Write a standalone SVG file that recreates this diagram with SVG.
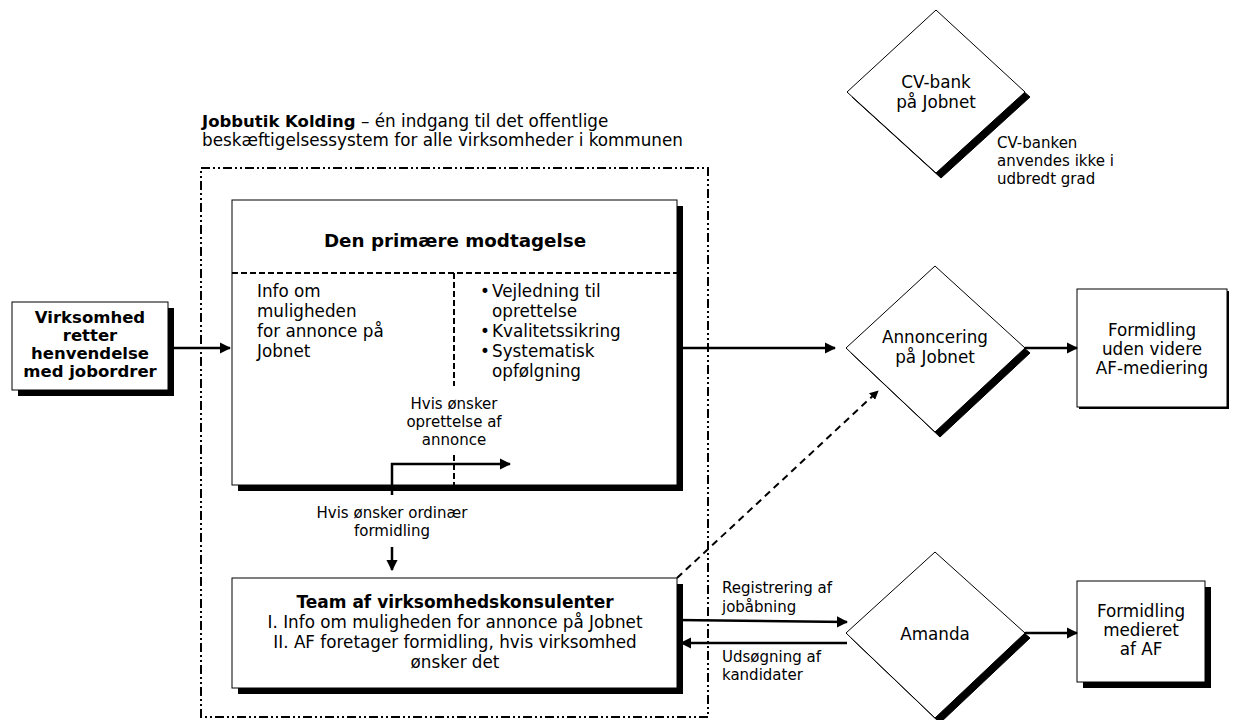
<svg xmlns="http://www.w3.org/2000/svg" width="1237" height="720" viewBox="0 0 1237 720">
<style>
text{font-family:"DejaVu Sans",Verdana,sans-serif;fill:#000}
.t15{font-size:16.8px}
.t13{font-size:15px}
.b{font-weight:bold;font-size:16.5px}
.box{fill:#fff;stroke:#000;stroke-width:1}
.sh{fill:#000}
.ln{stroke:#000;stroke-width:2.5;fill:none}
</style>
<defs>
<marker id="ah" viewBox="0 0 10 10" refX="9" refY="5" markerWidth="4.5" markerHeight="4.5" orient="auto" markerUnits="strokeWidth">
<path d="M0,0 L10,5 L0,10 z" fill="#000"/>
</marker>
</defs>
<rect width="1237" height="720" fill="#fff"/>

<g id="frame">
<text x="202" y="127" class="t15"><tspan class="b">Jobbutik Kolding</tspan> – én indgang til det offentlige</text>
<text x="202" y="146" class="t15">beskæftigelsessystem for alle virksomheder i kommunen</text>
<rect x="201" y="168" width="507" height="549" fill="none" stroke="#000" stroke-width="2" stroke-dasharray="9 3 2 3 2 3"/>
</g>

<g id="virksomhed">
<rect x="18" y="308" width="156" height="88" class="sh"/>
<rect x="12" y="302" width="156" height="88" class="box"/>
<text text-anchor="middle" class="b"><tspan x="90" y="323">Virksomhed</tspan><tspan x="90" y="341">retter</tspan><tspan x="90" y="359">henvendelse</tspan><tspan x="90" y="377">med jobordrer</tspan></text>
</g>

<g id="modtagelse">
<rect x="238" y="206" width="445" height="285" class="sh"/>
<rect x="232" y="200" width="445" height="285" class="box"/>
<text x="455" y="247" text-anchor="middle" class="b" style="font-size:18.3px">Den primære modtagelse</text>
<line x1="232" y1="273" x2="677" y2="273" stroke="#000" stroke-width="2" stroke-dasharray="6 3"/>
<line x1="454" y1="273" x2="454" y2="386" stroke="#000" stroke-width="2" stroke-dasharray="6 3"/>
<line x1="454" y1="455" x2="454" y2="485" stroke="#000" stroke-width="2" stroke-dasharray="6 3"/>
<text class="t15"><tspan x="257" y="297">Info om</tspan><tspan x="257" y="317">muligheden</tspan><tspan x="257" y="337">for annonce på</tspan><tspan x="257" y="357">Jobnet</tspan></text>
<g class="t15">
<text x="480" y="297">•</text><text x="492" y="297">Vejledning til</text>
<text x="492" y="317">oprettelse</text>
<text x="480" y="337">•</text><text x="492" y="337">Kvalitetssikring</text>
<text x="480" y="357">•</text><text x="492" y="357">Systematisk</text>
<text x="492" y="377">opfølgning</text>
</g>
<text text-anchor="middle" class="t13"><tspan x="454" y="409">Hvis ønsker</tspan><tspan x="454" y="427">oprettelse af</tspan><tspan x="454" y="445">annonce</tspan></text>
</g>

<g id="team">
<rect x="238" y="584" width="445" height="110" class="sh"/>
<rect x="232" y="578" width="445" height="110" class="box"/>
<text text-anchor="middle" class="t15"><tspan x="455" y="608" class="b" style="font-size:17px">Team af virksomhedskonsulenter</tspan><tspan x="455" y="628">I. Info om muligheden for annonce på Jobnet</tspan><tspan x="455" y="648">II. AF foretager formidling, hvis virksomhed</tspan><tspan x="455" y="668">ønsker det</tspan></text>
</g>

<g id="cvbank">
<polygon points="936,15 1030,97 941,178 852,97" fill="#000" stroke="#000"/>
<polygon points="936,10 1025,92 936,173 847,92" class="box"/>
<text text-anchor="middle" class="t15"><tspan x="936" y="88">CV-bank</tspan><tspan x="936" y="108">på Jobnet</tspan></text>
<text class="t13"><tspan x="997" y="148">CV-banken</tspan><tspan x="997" y="166">anvendes ikke i</tspan><tspan x="997" y="184">udbredt grad</tspan></text>
</g>

<g id="annoncering">
<polygon points="935,271 1030,353 940,437 851,353" fill="#000" stroke="#000"/>
<polygon points="935,266 1025,348 935,432 846,348" class="box"/>
<text text-anchor="middle" class="t15"><tspan x="935" y="343">Annoncering</tspan><tspan x="935" y="363">på Jobnet</tspan></text>
</g>

<g id="amanda">
<polygon points="935,557 1030,638 940,723 851,638" fill="#000" stroke="#000"/>
<polygon points="935,552 1025,633 935,718 846,633" class="box"/>
<text x="935" y="640" text-anchor="middle" class="t15">Amanda</text>
</g>

<g id="uden">
<rect x="1079" y="291" width="150" height="118" class="sh"/>
<rect x="1077" y="289" width="150" height="118" class="box"/>
<text text-anchor="middle" class="t15"><tspan x="1152" y="336">Formidling</tspan><tspan x="1152" y="355">uden videre</tspan><tspan x="1152" y="374">AF-mediering</tspan></text>
</g>

<g id="medieret">
<rect x="1083" y="587" width="128" height="101" class="sh"/>
<rect x="1077" y="581" width="128" height="101" class="box"/>
<text text-anchor="middle" class="t15"><tspan x="1141" y="617">Formidling</tspan><tspan x="1141" y="636">medieret</tspan><tspan x="1141" y="655">af AF</tspan></text>
</g>

<g id="connectors">
<line x1="168" y1="348" x2="230" y2="348" class="ln" marker-end="url(#ah)"/>
<line x1="677" y1="348" x2="835" y2="348" class="ln" marker-end="url(#ah)"/>
<line x1="1025" y1="348" x2="1077" y2="348" class="ln" marker-end="url(#ah)"/>
<line x1="1025" y1="633" x2="1077" y2="633" class="ln" marker-end="url(#ah)"/>
<polyline points="392,495 392,464 510,464" class="ln" marker-end="url(#ah)"/>
<line x1="392" y1="547" x2="392" y2="570" class="ln" marker-end="url(#ah)"/>
<line x1="677" y1="620" x2="847" y2="622" class="ln" marker-end="url(#ah)"/>
<line x1="847" y1="643" x2="681" y2="643" class="ln" marker-end="url(#ah)"/>
<line x1="677" y1="578" x2="878" y2="391" stroke="#000" stroke-width="2" stroke-dasharray="7 5" marker-end="url(#ah)"/>
<text class="t13"><tspan x="722" y="593">Registrering af</tspan><tspan x="722" y="612">jobåbning</tspan></text>
<text class="t13"><tspan x="722" y="662">Udsøgning af</tspan><tspan x="722" y="680">kandidater</tspan></text>
<text text-anchor="middle" class="t13"><tspan x="392" y="518">Hvis ønsker ordinær</tspan><tspan x="392" y="536">formidling</tspan></text>
</g>
</svg>
